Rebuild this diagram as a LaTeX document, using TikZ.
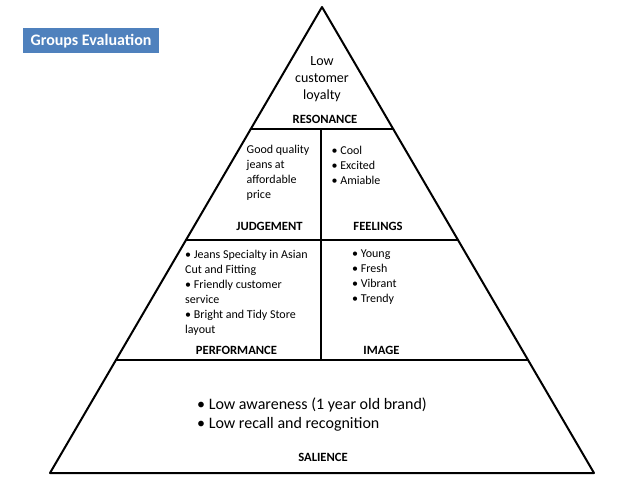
\documentclass[tikz,border=0pt]{standalone}
\usepackage{fontspec}
\setmainfont{Carlito}
\usepackage{tkz-euclide}
\usetikzlibrary{calc}
\definecolor{titleblue}{RGB}{79,129,189}

\begin{document}
\begin{tikzpicture}[x=1pt,y=-1pt,
  level/.style={font=\bfseries\fontsize{12.6}{14}\selectfont,inner sep=0pt},
  txt/.style={font=\fontsize{12}{15}\selectfont,align=left,anchor=north west,inner sep=0pt}]
  \useasboundingbox (0,0) rectangle (640,480);
  \tkzDefPoint(322,7){A}
  \tkzDefPoint(50,473){B}
  \tkzDefPoint(594,473){C}
  \tkzDrawPolygon[line width=2pt](A,B,C)

  % resonance line
  \coordinate (R1) at ($(A)!{122/466}!(B)$);
  \coordinate (R2) at ($(A)!{122/466}!(C)$);

  % judgement / feelings line
  \coordinate (J1) at ($(A)!{233/466}!(B)$);
  \coordinate (J2) at ($(A)!{233/466}!(C)$);

  % performance / image line
  \coordinate (P1) at ($(A)!{353/466}!(B)$);
  \coordinate (P2) at ($(A)!{353/466}!(C)$);

  \tkzDrawSegments[line width=2.2pt](R1,R2 J1,J2 P1,P2)

  % middle divider
  \tkzDefPoint(321,129){V1} \tkzDefPoint(321,360){V2}
  \tkzDrawSegment[line width=1.6pt](V1,V2)

  \node[fill=titleblue,text=white,font=\bfseries\fontsize{16}{19}\selectfont,
    minimum width=136pt,minimum height=25pt,inner sep=0pt] (title) at (91,40.7) {Groups Evaluation};

  \node[txt,font=\fontsize{14}{17}\selectfont,align=center,anchor=north] (restxt) at (322,56) {Low\\customer\\loyalty};
  \node[level] (res) at (325,119) {RESONANCE};

  \node[txt] (judtxt) at (246.5,144.5) {Good quality\\jeans at\\affordable\\price};
  \node[level] (jud) at (269.5,226) {JUDGEMENT};

  \node[txt] (feeltxt) at (331.5,145.5) {• Cool\\• Excited\\• Amiable};
  \node[level] (feel) at (378,226) {FEELINGS};

  \node[txt] (perftxt) at (185,250) {• Jeans Specialty in Asian\\Cut and Fitting\\• Friendly customer\\service\\• Bright and Tidy Store\\layout};
  \node[level] (perf) at (236.5,350) {PERFORMANCE};

  \node[txt] (imgtxt) at (352,250) {• Young\\• Fresh\\• Vibrant\\• Trendy};
  \node[level] (img) at (381.5,350) {IMAGE};

  \node[txt,font=\fontsize{16}{19.5}\selectfont] (saltxt) at (197,397.5) {• Low awareness (1 year old brand)\\• Low recall and recognition};
  \node[level] (sal) at (323,457.5) {SALIENCE};
\end{tikzpicture}
\end{document}
